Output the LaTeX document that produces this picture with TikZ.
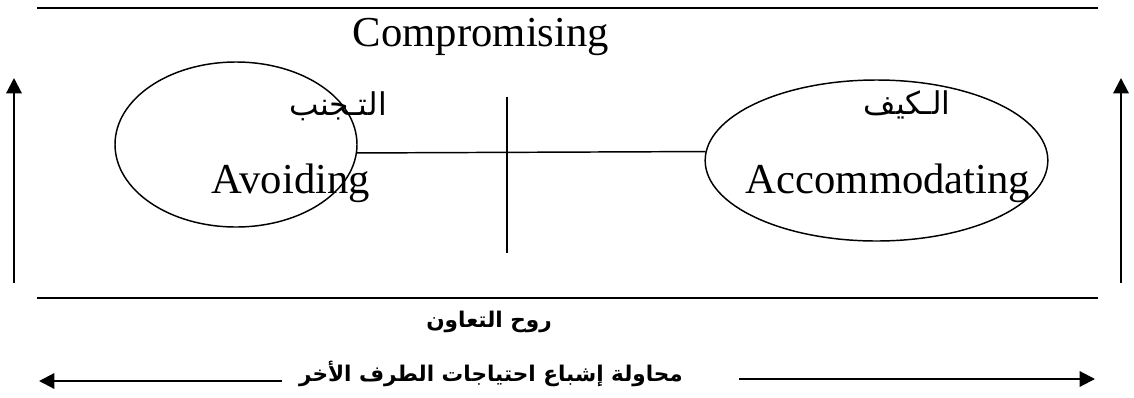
\documentclass[tikz,border=0pt]{standalone}
\usepackage{fontspec}
\setmainfont{Liberation Serif}
\newfontfamily\arabicfont[Script=Arabic]{DejaVu Sans}
\TeXXeTstate=1
\usetikzlibrary{shapes.geometric,arrows.meta}

\tikzset{every picture/.style={line width=1.1pt}}
\tikzset{
  oval/.style={draw, ellipse, inner sep=0pt},
  rule/.style={line width=1.5pt},
  tip/.style={-{Triangle[length=11.5pt,width=11.5pt]}, line width=1.6pt},
  latin/.style={inner sep=0pt, anchor=base, font=\fontsize{32}{38}\selectfont},
  arab/.style={inner sep=0pt, font=\arabicfont\fontsize{23.5}{28}\selectfont},
  arabbold/.style={inner sep=0pt, font=\arabicfont\bfseries\fontsize{16.2}{19}\selectfont}
}

\begin{document}
\begin{tikzpicture}[x=0.75pt,y=0.75pt,yscale=-1]
\useasboundingbox (0,0) rectangle (1134,397);

%Shape: Ellipse
\node[oval, minimum width=181.5pt, minimum height=123.75pt] (avoid) at (236,144.5) {};
%Shape: Ellipse
\node[oval, minimum width=257pt, minimum height=120.75pt] (accom) at (876.5,160.5) {};

%Straight Lines
\coordinate (topL) at (37,8);
\coordinate (topR) at (1098,8);
\draw[rule] (topL) -- (topR);
%Straight Lines
\coordinate (botL) at (37,298);
\coordinate (botR) at (1098,298);
\draw[rule] (botL) -- (botR);
%Straight Lines
\draw (avoid.-4) -- (accom.177.5);
%Straight Lines
\coordinate (midT) at (507,97);
\coordinate (midB) at (507,253);
\draw (midT) -- (midB);

%Straight Lines
\coordinate (leftB) at (14,283);
\coordinate (leftT) at (14,78);
\draw[tip] (leftB) -- (leftT);
%Straight Lines
\coordinate (rightB) at (1121,283);
\coordinate (rightT) at (1121,78);
\draw[tip] (rightB) -- (rightT);

% Text Node
\node[latin] (compro) at (481,46) {Compromising};
% Text Node
\node[latin] (avoidtxt) at (291,193) {Avoiding};
% Text Node
\node[latin] (accomtxt) at (888,193) {Accommodating};
% Text Node
\node[arab] (avoidar) at (338,106) {\beginR التـجنب\endR};
% Text Node
\node[arab] (accomar) at (907,105) {\beginR الـكيف\endR};
% Text Node
\node[arabbold] (coop) at (489,322) {\beginR روح التعاون\endR};
% Text Node
\node[arabbold] (needs) at (491,374) {\beginR محاولة إشباع احتياجات الطرف الأخر\endR};

%Straight Lines
\coordinate (arrLs) at (282,381);
\coordinate (arrL) at (39,381);
\draw[tip] (arrLs) -- (arrL);
%Straight Lines
\coordinate (arrRs) at (739,379);
\coordinate (arrR) at (1095,379);
\draw[tip] (arrRs) -- (arrR);

\end{tikzpicture}
\end{document}
